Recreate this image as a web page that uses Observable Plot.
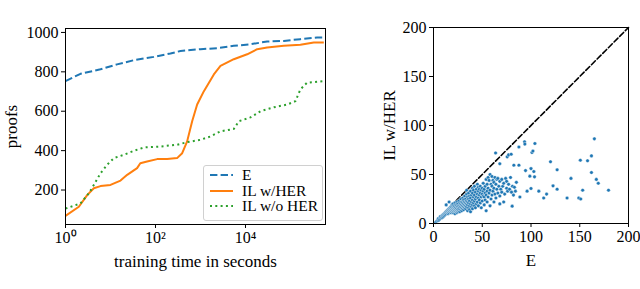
<!DOCTYPE html>
<html><head><meta charset="utf-8">
<script src="https://cdn.jsdelivr.net/npm/d3@7"></script>
<script src="https://cdn.jsdelivr.net/npm/@observablehq/plot@0.6"></script>
<style>
body{margin:0;background:#fff;}
#wrap{position:relative;width:640px;height:289px;overflow:hidden;font-family:"Liberation Serif",serif;}
#left,#right{position:absolute;top:0;}
#left{left:0;} #right{left:380px;}
#legend{position:absolute;left:203px;top:165px;width:118px;height:54px;border:1px solid #d0d0d0;border-radius:3px;background:rgba(255,255,255,0.85);font-size:15.5px;}
#legend .row{position:absolute;left:6px;height:16px;display:flex;align-items:center;}
#legend svg{margin-right:9px;}
g[aria-label="x-axis label"] text, g[aria-label="y-axis label"] text{font-size:17px;}
</style></head>
<body><div id="wrap"><div id="left"></div><div id="right"></div><div id="legend"></div></div>
<script>
// ---- left panel data: (time in seconds, proofs)
const eTime   = [1, 2.15, 6, 14, 33, 92, 215, 360, 1000, 2350, 5500, 12900, 30300, 71000, 166000, 390000, 550000];
const eProofs = [753, 790, 813, 838, 859, 876, 893, 906, 915, 920, 932, 940, 954, 957, 966, 974, 974];

const herTime   = [1, 1.98, 3.03, 4.26, 6, 10, 16.7, 23.5, 39, 46, 65, 109, 182, 302, 392, 505, 653, 843, 1190, 1980, 2780, 5500, 10900, 18200, 30300, 71000, 166000, 330000, 550000];
const herProofs = [69, 115, 174, 209, 220, 226, 248, 277, 311, 336, 345, 357, 358, 362, 387, 447, 549, 634, 702, 787, 830, 864, 889, 915, 923, 932, 937, 949, 949];

const noHerTime   = [1, 2.15, 3.3, 4.26, 6, 8.4, 11.9, 19.8, 33, 55, 129, 302, 505, 1000, 1670, 2780, 5500, 7100, 12900, 21500, 42600, 84300, 129000, 166000, 234000, 550000];
const noHerProofs = [106, 132, 183, 226, 285, 328, 362, 379, 399, 416, 421, 430, 443, 455, 472, 498, 510, 549, 569, 600, 620, 634, 651, 711, 745, 753];

const seriesNames = ["E", "IL w/HER", "IL w/o HER"];
const seriesColors = ["#1f77b4", "#ff7f0e", "#2ca02c"];
const xTicks = [1, 100, 10000];
const xTickLabels = ["10⁰", "10²", "10⁴"];
const yTicks = [200, 400, 600, 800, 1000];

// ---- right panel data: (E, IL w/HER)
const scatterE = [2,3,4,5,5,6,7,7,8,9,9,10,10,11,11,12,12,13,13,13,14,14,15,15,15,16,16,16,16,17,17,17,18,18,18,18,19,19,19,19,20,20,20,20,20,21,21,21,21,22,22,22,22,22,23,23,23,23,24,24,24,24,24,25,25,25,25,26,26,26,26,27,27,27,27,28,28,28,28,29,29,29,29,30,30,30,30,31,31,31,31,32,32,32,32,33,33,33,33,34,34,34,34,34,35,35,35,35,36,36,36,36,37,37,37,37,38,38,38,38,39,39,39,40,40,40,40,40,41,41,41,42,42,42,42,43,43,43,44,44,44,45,45,45,46,46,46,46,47,47,47,48,48,48,49,49,49,50,50,50,51,51,51,52,52,52,53,53,53,54,54,54,55,55,55,56,56,56,57,57,58,58,58,59,59,60,60,60,61,61,62,62,62,63,63,64,64,65,65,66,66,67,68,68,68,69,70,70,71,72,72,73,74,75,75,76,77,78,79,80,81,82,83,84,85,
  93.4,93.7,104,101,102,87.6,63.7,75.6,77,79.7,68,82.4,87.6,120,126.8,100,102.9,103.6,98.8,94.4,88.6,96,100,108,113,116,122.6,126.8,137,141,149,151,150.6,153,158,162,165,162,167,169,179.5,80.7];
const scatterIL = [1,2,3,3,5,4,5,7,6,6,8,7,9,8,10,9,11,10,12,19,11,13,10,12,14,11,13,15,22,12,14,16,11,13,15,17,12,14,16,19,11,13,15,17,20,12,14,16,18,10,13,15,17,21,12,14,16,19,11,13,15,18,22,12,14,17,20,13,15,18,23,12,16,19,21,14,17,20,25,13,16,19,22,15,18,21,26,14,17,20,24,16,19,22,28,15,18,21,25,17,20,23,30,34,13,19,22,27,16,21,25,31,14,18,23,28,12,20,26,33,17,22,29,15,19,24,31,36,21,27,34,18,23,29,38,16,25,32,20,27,35,22,30,40,18,26,33,37,24,29,35,21,31,38,16,27,34,23,30,36,28,33,41,19,27,35,24,31,38,13,29,45,22,33,40,27,36,47,31,44,18,34,50,25,40,29,38,48,33,44,22,36,42,30,47,26,40,35,45,31,46,38,20,28,43,35,45,32,38,22,41,30,46,36,43,33,40,35,47,32,38,29,37,33,42,
  83.3,81,81.6,72.4,74,78,72,68,70,70.7,61,59.5,59.5,63,54.8,56,53,47.6,48.3,54,27,33,35.7,33,26,30,38.4,35,26,46,26,25,64.6,34,64,69,86.4,52,45,41,34,17.7];

const fontFamily = "'Liberation Serif', serif";
const lineData = [
  ...eTime.map((t, i) => ({t, p: eProofs[i], s: seriesNames[0]})),
  ...herTime.map((t, i) => ({t, p: herProofs[i], s: seriesNames[1]})),
  ...noHerTime.map((t, i) => ({t, p: noHerProofs[i], s: seriesNames[2]}))
];
const dashes = {"E": "7.4,3.2", "IL w/HER": null, "IL w/o HER": "2,3.3"};

const left = Plot.plot({
  width: 330, height: 289,
  marginLeft: 65, marginRight: 5, marginTop: 28, marginBottom: 65,
  style: {fontFamily, fontSize: "16px", color: "black", background: "white"},
  x: {type: "log", domain: [1, 600000]},
  y: {domain: [25, 1020]},
  marks: [
    ...seriesNames.map((name, i) => Plot.line(lineData.filter(d => d.s === name), {
      x: "t", y: "p", stroke: seriesColors[i], strokeWidth: 2,
      strokeDasharray: dashes[name], strokeLinecap: "butt"
    })),
    Plot.frame({stroke: "black", strokeWidth: 1}),
    Plot.axisX({ticks: xTicks, tickFormat: (d) => xTickLabels[xTicks.indexOf(d)], tickSize: 4, tickPadding: 3,
      label: "training time in seconds", labelAnchor: "center", labelOffset: 42, labelArrow: "none"}),
    Plot.axisY({ticks: yTicks, tickFormat: (d) => String(d), tickSize: 4, tickPadding: 3,
      label: "proofs", labelAnchor: "center", labelOffset: 61, labelArrow: "none"})
  ]
});
document.getElementById("left").appendChild(left);

const scatter = scatterE.map((e, i) => ({e, il: scatterIL[i]}));
const diag = [{v: 0}, {v: 200}];
const sTicks = [0, 50, 100, 150, 200];
const right = Plot.plot({
  width: 260, height: 289,
  marginLeft: 53, marginRight: 12, marginTop: 27, marginBottom: 66,
  style: {fontFamily, fontSize: "16px", color: "black", background: "white"},
  x: {domain: [0, 200]},
  y: {domain: [0, 200]},
  marks: [
    Plot.line(diag, {x: "v", y: "v", stroke: "black", strokeWidth: 1.6, strokeDasharray: "5.5,2.5"}),
    Plot.dot(scatter, {x: "e", y: "il", r: 1.8, fill: "#1f77b4", stroke: "white", strokeWidth: 0.4}),
    Plot.frame({stroke: "black", strokeWidth: 1}),
    Plot.axisX({ticks: sTicks, tickSize: 4, tickPadding: 3,
      label: "E", labelAnchor: "center", labelOffset: 42, labelArrow: "none"}),
    Plot.axisY({ticks: sTicks, tickSize: 4, tickPadding: 3,
      label: "IL w/HER", labelAnchor: "center", labelOffset: 51, labelArrow: "none"})
  ]
});
document.getElementById("right").appendChild(right);

// legend
const lg = document.getElementById("legend");
seriesNames.forEach((name, i) => {
  const row = document.createElement("div");
  row.className = "row";
  row.style.top = (1 + i * 15.6) + "px";
  const d = dashes[name] ? `stroke-dasharray="${dashes[name]}"` : "";
  row.innerHTML = `<svg width="23" height="6"><line x1="0" y1="3" x2="23" y2="3" stroke="${seriesColors[i]}" stroke-width="2" ${d}/></svg><span>${name}</span>`;
  lg.appendChild(row);
});
</script></body></html>
